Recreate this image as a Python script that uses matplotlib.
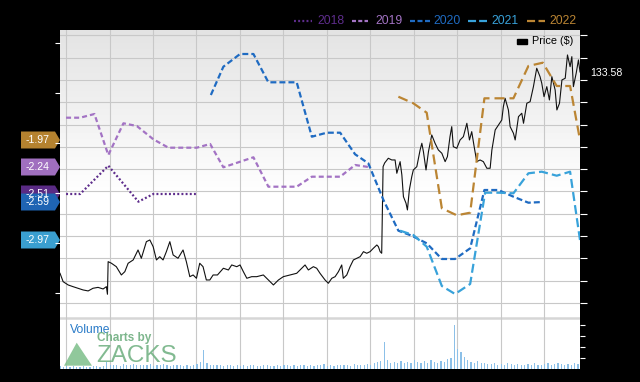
import numpy as np
import matplotlib.pyplot as plt
import matplotlib.transforms as mtransforms
from matplotlib.patches import Polygon, Rectangle
from matplotlib.lines import Line2D

plt.rcParams['font.family'] = ['Liberation Sans', 'DejaVu Sans']
plt.rcParams['lines.scale_dashes'] = False

# price ($), time as decimal year
price = [
    (2017.965, 43.32), (2017.983, 39.56), (2018.012, 38.08), (2018.040, 37.32), (2018.069, 36.60),
    (2018.098, 35.84), (2018.127, 35.40), (2018.155, 36.60), (2018.184, 37.00), (2018.213, 36.28),
    (2018.232, 37.32), (2018.238, 33.91), (2018.242, 48.53), (2018.261, 47.81), (2018.289, 46.28),
    (2018.318, 42.56), (2018.338, 44.04), (2018.357, 47.81), (2018.386, 49.29), (2018.414, 53.77),
    (2018.433, 50.05), (2018.462, 57.49), (2018.482, 58.26), (2018.501, 55.25), (2018.520, 49.29),
    (2018.539, 50.77), (2018.558, 49.29), (2018.577, 53.01), (2018.597, 57.49), (2018.616, 51.53),
    (2018.644, 50.05), (2018.673, 53.77), (2018.692, 48.53), (2018.712, 41.80), (2018.731, 42.56),
    (2018.750, 41.08), (2018.769, 47.81), (2018.788, 46.28), (2018.807, 40.32), (2018.827, 40.32),
    (2018.846, 42.56), (2018.871, 42.56), (2018.905, 45.57), (2018.934, 44.80), (2018.953, 47.05),
    (2018.982, 46.28), (2019.001, 47.05), (2019.020, 44.04), (2019.040, 41.08), (2019.068, 41.80),
    (2019.097, 41.80), (2019.135, 42.56), (2019.164, 40.32), (2019.193, 38.08), (2019.222, 40.32),
    (2019.250, 41.80), (2019.289, 42.56), (2019.327, 43.32), (2019.356, 45.57), (2019.375, 47.05),
    (2019.394, 44.80), (2019.423, 46.28), (2019.442, 45.57), (2019.461, 43.32), (2019.490, 40.32),
    (2019.509, 38.84), (2019.529, 41.08), (2019.548, 41.80), (2019.567, 44.04), (2019.586, 47.05),
    (2019.595, 41.08), (2019.615, 42.56), (2019.634, 46.28), (2019.653, 49.29), (2019.673, 50.05),
    (2019.692, 50.77), (2019.711, 53.01), (2019.730, 52.29), (2019.749, 53.01), (2019.768, 54.53),
    (2019.788, 56.01), (2019.797, 55.25), (2019.807, 53.01), (2019.816, 52.29), (2019.824, 91.12),
    (2019.833, 92.78), (2019.854, 94.89), (2019.874, 94.13), (2019.893, 94.13), (2019.903, 88.16),
    (2019.922, 93.37), (2019.932, 87.40), (2019.941, 77.67), (2019.956, 74.71), (2019.964, 71.71),
    (2019.975, 80.68), (2019.989, 86.64), (2019.998, 89.64), (2020.018, 91.12), (2020.037, 98.61),
    (2020.047, 101.62), (2020.056, 97.85), (2020.071, 89.64), (2020.085, 97.85), (2020.104, 105.34),
    (2020.123, 101.62), (2020.142, 98.61), (2020.162, 97.13), (2020.181, 93.37), (2020.194, 95.61),
    (2020.209, 104.58), (2020.219, 109.06), (2020.228, 100.09), (2020.248, 99.37), (2020.267, 103.10),
    (2020.286, 104.58), (2020.306, 110.58), (2020.321, 103.10), (2020.334, 106.82), (2020.348, 100.09),
    (2020.363, 93.37), (2020.382, 94.13), (2020.401, 93.37), (2020.421, 90.41), (2020.440, 90.41),
    (2020.450, 98.61), (2020.469, 107.58), (2020.488, 109.82), (2020.507, 112.06), (2020.516, 118.03),
    (2020.526, 121.79), (2020.545, 116.55), (2020.555, 109.06), (2020.574, 106.10), (2020.584, 103.10),
    (2020.603, 113.54), (2020.622, 115.07), (2020.632, 110.58), (2020.651, 119.55), (2020.670, 120.27),
    (2020.689, 127.00), (2020.708, 135.25), (2020.727, 131.48), (2020.737, 128.52), (2020.750, 122.51),
    (2020.766, 127.00), (2020.781, 121.03), (2020.795, 131.48), (2020.814, 125.52), (2020.824, 116.55),
    (2020.839, 119.55), (2020.853, 130.00), (2020.872, 130.76), (2020.885, 141.21), (2020.900, 135.96),
    (2020.910, 140.45), (2020.919, 127.00), (2020.935, 133.00), (2020.948, 138.97), (2020.957, 133.58),
]
price_t, price_v = zip(*price)
last_price = "133.58"

# consensus EPS estimates per fiscal year
eps_2018_t = [2018.000, 2018.081, 2018.243, 2018.416, 2018.502, 2018.752]
eps_2018 = [-2.51, -2.51, -2.227, -2.587, -2.51, -2.51]

eps_2019_t = [2018.000, 2018.081, 2018.163, 2018.243, 2018.330, 2018.407, 2018.502, 2018.589,
              2018.752, 2018.829, 2018.905, 2019.078, 2019.164, 2019.327, 2019.414, 2019.577,
              2019.663, 2019.739]
eps_2019 = [-1.747, -1.747, -1.71, -2.12, -1.803, -1.83, -1.963, -2.047,
            -2.047, -2.01, -2.243, -2.143, -2.437, -2.437, -2.337, -2.337,
            -2.22, -2.24]

eps_2020_t = [2018.833, 2018.905, 2019.001, 2019.078, 2019.164, 2019.327, 2019.414, 2019.500,
              2019.577, 2019.663, 2019.739, 2019.826, 2019.912, 2019.989, 2020.075, 2020.162,
              2020.238, 2020.325, 2020.407, 2020.487, 2020.574, 2020.660, 2020.743]
eps_2020 = [-1.52, -1.237, -1.11, -1.11, -1.393, -1.393, -1.937, -1.897,
            -1.897, -2.113, -2.203, -2.57, -2.877, -2.927, -3.003, -3.16,
            -3.16, -3.053, -2.47, -2.47, -2.537, -2.597, -2.59]

eps_2021_t = [2019.922, 2019.998, 2020.075, 2020.162, 2020.238, 2020.325, 2020.411, 2020.488,
              2020.574, 2020.660, 2020.737, 2020.823, 2020.900, 2020.957]
eps_2021 = [-2.877, -2.92, -3.037, -3.43, -3.51, -3.41, -2.497, -2.497,
            -2.503, -2.303, -2.287, -2.327, -2.287, -2.97]

eps_2022_t = [2019.912, 2019.998, 2020.075, 2020.162, 2020.248, 2020.325, 2020.407, 2020.574,
              2020.660, 2020.743, 2020.823, 2020.900, 2020.957]
eps_2022 = [-1.537, -1.603, -1.697, -2.653, -2.723, -2.697, -1.553, -1.553,
            -1.23, -1.197, -1.43, -1.43, -1.97]

# weekly volume (millions)
volume = [
    1.2, 1.0, 1.4, 1.1, 1.3, 1.0, 0.9, 1.2, 1.1, 1.0, 1.3, 1.2, 1.1,
    1.4, 3.2, 2.0, 1.6, 1.8, 1.5, 2.2, 1.7, 1.9, 2.4, 1.6, 1.8, 2.0,
    1.7, 2.1, 1.5, 1.9, 1.6, 2.3, 1.8, 1.5, 1.7, 2.0, 1.6, 1.4, 1.8,
    1.5, 1.9, 2.2, 3.0, 8.5, 2.6, 1.8, 1.6, 2.0, 1.7, 1.5, 1.9, 1.6,
    1.4, 1.8, 1.5, 1.7, 1.3, 1.6, 1.9, 1.5, 1.4, 1.7, 1.6, 1.3, 1.5,
    1.8, 1.4, 1.6, 2.0, 1.5, 1.7, 1.4, 1.9, 1.6, 1.5, 1.8, 1.4, 1.7,
    1.6, 2.1, 1.5, 1.8, 1.4, 1.7, 2.0, 1.6, 1.9, 1.5, 2.2, 1.8, 1.6,
    2.0, 2.4, 1.9, 2.6, 3.0, 3.5, 12.0, 4.0, 2.8, 3.2, 2.5, 3.6, 2.9,
    3.3, 2.7, 3.9, 3.1, 2.6, 3.4, 2.8, 4.2, 3.0, 2.5, 3.7, 3.1, 4.5,
    5.0, 20.0, 9.0, 7.5, 5.5, 4.0, 3.2, 2.8, 3.6, 2.5, 2.9, 2.4, 2.2,
    2.6, 2.0, 2.3, 1.9, 2.7, 2.1, 1.8, 2.4, 2.0, 1.7, 2.2, 1.9, 2.5,
    2.0, 1.8, 2.3, 2.6, 1.9, 2.1, 2.8, 2.2, 1.7, 2.4, 2.0, 2.9, 2.3,
]
vol_t = 2017.965 + np.arange(len(volume)) / 52.0

years = ["2018", "2019", "2020", "2021", "2022"]
colors = ["#5e2d8c", "#a373c4", "#1f6bc2", "#38a2da", "#bb8533"]
dashes = [(1.4, 1.6), (3.6, 2.2), (4.3, 2.2), (6.5, 3.0), (7.2, 3.6)]
legend_dashes = [(1.4, 1.6), (2.9, 1.6), (3.6, 1.8), (5.8, 2.2), (5.8, 2.5)]
last_eps = [-2.51, -2.24, -2.59, -2.97, -1.97]
box_colors = ["#5a2b84", "#a06fbf", "#1f64b3", "#3a9fd0", "#b5822f"]

W, H = 640, 382
XLIM = (2017.965, 2020.957)


def fx(x):
    return x / W


def fy(y):
    return 1 - y / H


fig = plt.figure(figsize=(6.4, 3.82), dpi=100, facecolor="black")

# price panel (right axis)
ax = fig.add_axes([60 / W, 13 / H, 520 / W, 339 / H])
grad = np.clip(0.89 + 0.11 * np.linspace(0, 1, 170), 0, 1)
grad = np.concatenate([grad, np.ones(169)])
ax.imshow(grad[:, None], cmap="gray", vmin=0, vmax=1, extent=[0, 1, 0, 1],
          transform=ax.transAxes, aspect="auto", zorder=0)
ax.plot([0, 1], [51 / 339] * 2, transform=ax.transAxes, color="#d6d6d6", lw=1.8, zorder=1)
ax.plot(price_t, price_v, color="#111111", lw=0.8, zorder=3)
ax.set_xlim(*XLIM)
ax.set_ylim(0.4, 152.4)

# EPS panel (left axis)
ax2 = ax.twinx()
for t, v, c, d in zip([eps_2018_t, eps_2019_t, eps_2020_t, eps_2021_t, eps_2022_t],
                      [eps_2018, eps_2019, eps_2020, eps_2021, eps_2022], colors, dashes):
    ax2.plot(t, v, color=c, lw=1.6, dashes=d)
ax2.set_ylim(-4.26, -0.87)
ax2.set_xlim(*XLIM)

ax.yaxis.tick_right()
ax.set_yticks(range(30, 151, 10))
ax.set_xticks(np.arange(2018, 2020.8, 0.25))
ax.grid(True, color="#c8c8c8", lw=0.8)
ax.tick_params(axis="y", colors="white", length=4.8, width=0.8, labelright=False, labelleft=False)
ax.tick_params(axis="x", length=0, labelbottom=False)

ax2.yaxis.tick_left()
ax2.set_yticks([-1.0, -1.5, -2.0, -2.5, -3.0, -3.5])
ax2.tick_params(axis="y", colors="white", length=3.6, width=0.8, labelleft=False, labelright=False)
for a in (ax, ax2):
    for s in a.spines.values():
        s.set_visible(False)

# last EPS value tags on the left
trans = mtransforms.blended_transform_factory(ax2.transAxes, ax2.transData)
for v, c in sorted(zip(last_eps, box_colors), key=lambda p: p[0] == -2.59):
    poly = Polygon([(-0.075, v - 0.085), (-0.0096, v - 0.085), (0, v),
                    (-0.0096, v + 0.085), (-0.075, v + 0.085)],
                   closed=True, facecolor=c, edgecolor="none", transform=trans, clip_on=False)
    ax2.add_patch(poly)
    ax2.text(-0.0423, v, f"{v:.2f}", transform=trans, color="white", fontsize=7.6,
             ha="center", va="center", clip_on=False)

# volume panel
axv = fig.add_axes([60 / W, 13 / H, 520 / W, 51 / H])
axv.patch.set_visible(False)
axv.bar(vol_t, volume, width=0.007, color="#8cc0e8", linewidth=0)
axv.set_xlim(*XLIM)
axv.set_ylim(0, 23)
axv.yaxis.tick_right()
axv.set_yticks([5, 10, 15, 20])
axv.set_xticks([])
axv.tick_params(axis="y", colors="white", length=3.6, width=0.8, labelright=False, labelleft=False)
for s in axv.spines.values():
    s.set_visible(False)

# legend on top
legend_pos = [(294, 312, 317), (352, 368, 375), (410, 430, 433), (468, 487, 491), (527, 545, 549)]
for (x0, x1, xt), yr, c, d in zip(legend_pos, years, colors, legend_dashes):
    fig.add_artist(Line2D([fx(x0), fx(x1)], [fy(21), fy(21)], color=c, lw=1.6, dashes=d,
                          transform=fig.transFigure))
    fig.text(fx(xt), fy(21), yr, color=c, fontsize=8.7, va="center", ha="left")

fig.add_artist(Rectangle((fx(517), fy(43.5)), 10 / W, 4.5 / H, color="black",
                         transform=fig.transFigure))
fig.text(fx(532), fy(41.5), "Price ($)", color="black", fontsize=7.8, va="center")
fig.text(fx(590), fy(72.7), last_price, color="white", fontsize=7.6, va="center")

fig.text(fx(70), fy(330), "Volume", color="#2a7bc8", fontsize=8.7, va="center")
fig.add_artist(Polygon([(fx(64), fy(365.7)), (fx(76.7), fy(342.7)), (fx(92), fy(365.7))],
                       closed=True, facecolor="#7dbf8a", edgecolor="none", alpha=0.85,
                       transform=fig.transFigure))
fig.text(fx(97), fy(338), "Charts by", color="#6fae80", fontsize=8.5, va="center",
         fontweight="bold", alpha=0.9)
fig.text(fx(96), fy(356.5), "ZACKS", color="#74b385", fontsize=17.5, va="center", alpha=0.9)

fig.savefig("out.png", dpi=100, facecolor="black")
